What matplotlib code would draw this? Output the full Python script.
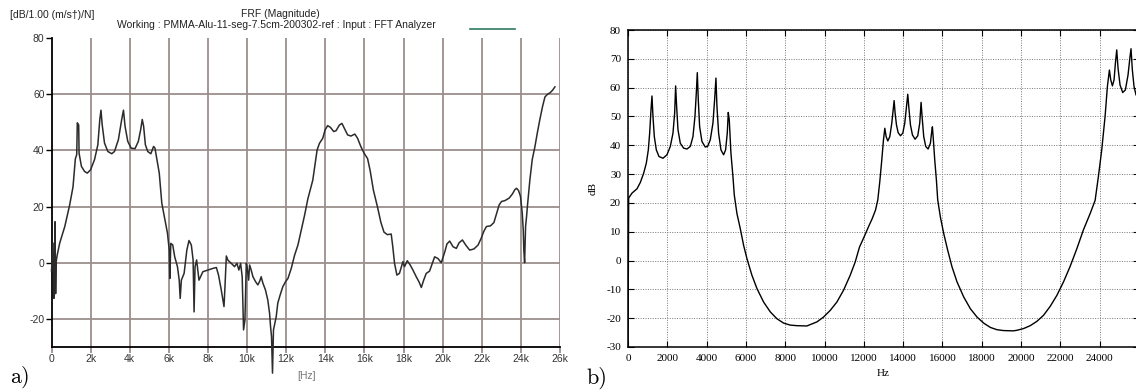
import matplotlib.pyplot as plt
from matplotlib.lines import Line2D

plt.rcParams['axes.unicode_minus'] = False

# ---- panel a: measured FRF (frequency in kHz, magnitude in dB) ----
a_freq_khz = [0.0, 0.08, 0.12, 0.15, 0.18, 0.21, 0.24, 0.3, 0.42, 0.68, 0.93, 1.1, 1.22, 1.29, 1.32, 1.39,
              1.41, 1.53, 1.69, 1.83, 2.0, 2.2, 2.37, 2.47, 2.53, 2.59, 2.71, 2.88, 3.08, 3.22, 3.42, 3.59,
              3.68, 3.76, 3.9, 4.07, 4.27, 4.44, 4.56, 4.64, 4.71, 4.8, 4.92, 5.08, 5.22, 5.29, 5.39, 5.51,
              5.64, 5.8, 5.93, 6.02, 6.05, 6.1, 6.2, 6.3, 6.44, 6.53, 6.58, 6.64, 6.78, 6.92, 7.03, 7.15,
              7.24, 7.29, 7.34, 7.42, 7.54, 7.74, 8.0, 8.26, 8.43, 8.54, 8.68, 8.82, 8.87, 8.94, 9.02, 9.19,
              9.36, 9.48, 9.58, 9.67, 9.75, 9.82, 9.89, 9.96, 10.0, 10.08, 10.13, 10.21, 10.3, 10.43, 10.55,
              10.64, 10.72, 10.81, 10.94, 11.06, 11.15, 11.2, 11.25, 11.3, 11.35, 11.42, 11.49, 11.57, 11.69,
              11.83, 11.97, 12.09, 12.26, 12.43, 12.6, 12.77, 12.94, 13.11, 13.36, 13.58, 13.7, 13.87, 13.99,
              14.12, 14.26, 14.43, 14.55, 14.72, 14.85, 14.97, 15.14, 15.31, 15.51, 15.65, 15.82, 15.99,
              16.16, 16.29, 16.46, 16.67, 16.84, 17.0, 17.17, 17.37, 17.45, 17.54, 17.66, 17.79, 17.97,
              18.05, 18.19, 18.34, 18.48, 18.65, 18.79, 18.91, 19.03, 19.16, 19.33, 19.47, 19.59, 19.76,
              19.93, 20.11, 20.22, 20.36, 20.53, 20.7, 20.84, 21.01, 21.18, 21.38, 21.6, 21.81, 21.97, 22.1,
              22.24, 22.44, 22.62, 22.75, 22.89, 23.01, 23.18, 23.4, 23.57, 23.69, 23.78, 23.88, 23.98,
              24.07, 24.12, 24.15, 24.19, 24.24, 24.29, 24.34, 24.46, 24.58, 24.72, 24.84, 24.97, 25.11,
              25.23, 25.35, 25.49, 25.62, 25.74]
a_db = [-3, 7, -12.7, -9, 14.6, -11, 0.5, 3, 7, 12.9, 20.6, 27, 37, 38.5, 49.8, 49,
        39, 34.3, 32.5, 31.9, 33.1, 36.7, 42, 51, 54.3, 49.2, 42.6, 39.6, 38.8, 39.6, 43.8, 51,
        54.3, 48.6, 43.2, 40.8, 40.6, 43.2, 47.4, 51, 48.6, 42, 39.6, 38.8, 41.4, 40.8, 36.7, 31.9,
        21.2, 15.2, 10.5, 4.5, -5.6, 6.9, 6.3, 2.1, -1.4, -6.2, -12.7, -6.2, -3.8, 4.5, 7.9, 6.3,
        1, -17.5, -1.4, 1, -6.2, -3.2, -2.6, -2, -1.7, -4.4, -9.7, -15.6, -8.5, 2.4, 0.9, -0.2,
        -1.4, -0.2, -2.6, -0.2, -5, -23.9, -20.4, -0.2, -1.4, -6.2, -0.8, -2.6, -5, -6.7, -7.9,
        -6.7, -5, -7.3, -9.7, -13.3, -18, -22.7, -26.3, -39.3, -23.9, -21.5, -19.2, -14.4, -11.5,
        -8.5, -6.7, -5.6, -2, 2.7, 6.3, 11.6, 16.9, 22.8, 29.4, 40.1, 42.5, 44.3, 47.3,
        48.8, 48.2, 46.7, 47, 49, 49.6, 47.9, 45.5, 45.1, 45.8, 44.3, 41.3, 38.9,
        37.1, 32.9, 25.8, 19.8, 14.4, 10.9, 10, 10.2, 5.7, -0.2, -4.4, -3.8, 0.4,
        -1.4, 0.7, -0.8, -2.6, -5, -6.8, -8.8, -6.2, -3.8, -3, -0.2, 2.1, 1.5,
        0, 3.9, 6.7, 7.7, 5.7, 5.1, 7.1, 8.1, 6.3, 4.5, 4.9, 6.3, 8.7, 11.1,
        12.9, 13.1, 14.3, 17.4, 20.6, 21.8, 22.1, 23, 24.5, 26, 26.5, 25.7, 23.6,
        17.6, 11.7, 4.5, 0, 12.9, 16.4, 20.6, 29.5, 36.7, 41.4, 46.2, 51, 55.7,
        59, 59.9, 60.5, 61.4, 62.6]
a_xticks = [0, 2, 4, 6, 8, 10, 12, 14, 16, 18, 20, 22, 24, 26]
a_xticklabels = ['0', '2k', '4k', '6k', '8k', '10k', '12k', '14k', '16k', '18k', '20k', '22k', '24k', '26k']
a_yticks = [-20, 0, 20, 40, 60, 80]

# ---- panel b: computed response (Hz, dB) ----
b_freq_hz = [0, 34, 203, 458, 627, 797, 932, 1034, 1102, 1170, 1220, 1271, 1339, 1441, 1576, 1780,
             1983, 2153, 2288, 2373, 2424, 2475, 2543, 2661, 2831, 3000, 3170, 3305, 3407, 3475, 3526,
             3576, 3644, 3763, 3932, 4051, 4187, 4322, 4407, 4475, 4526, 4610, 4729, 4865, 4966, 5051,
             5102, 5153, 5237, 5339, 5407, 5543, 5712, 5882, 6051, 6305, 6560, 6899, 7238, 7577, 7916,
             8255, 8594, 9100, 9611, 9950, 10289, 10628, 10967, 11306, 11560, 11780, 12000, 12254,
             12423, 12593, 12711, 12813, 12914, 12999, 13067, 13134, 13219, 13321, 13422, 13490, 13541,
             13591, 13659, 13744, 13862, 13981, 14082, 14167, 14235, 14286, 14370, 14472, 14607, 14743,
             14844, 14912, 14963, 15047, 15149, 15268, 15386, 15454, 15488, 15538, 15606, 15691, 15758,
             15894, 16063, 16266, 16486, 16740, 17079, 17418, 17757, 18095, 18434, 18772, 19111, 19600,
             19788, 20126, 20465, 20804, 21142, 21481, 21820, 22159, 22498, 22837, 23175, 23514, 23768,
             23935, 24104, 24274, 24392, 24494, 24562, 24647, 24731, 24799, 24867, 24934, 25036, 25171,
             25307, 25442, 25544, 25594, 25662, 25747, 25848]
b_db = [-30, 21.7, 23.4, 24.9, 27.1, 30.3, 33.8, 38.4, 44.2, 52.3, 57.1, 50, 43, 38.4, 36.1, 35.5,
        36.7, 39.6, 44.2, 51.1, 60.6, 53.4, 45.4, 40.7, 39, 38.7, 39.6, 43, 50, 58.1, 65.2,
        55.8, 46.5, 41.3, 39.4, 39.6, 41.9, 47.7, 55.8, 63.3, 53.4, 44.2, 38.4, 36.7, 38.4, 44.2,
        51.4, 48.8, 37.3, 29.2, 22.8, 16.3, 11.1, 5.3, 0.7, -5.1, -9.7, -14.4, -17.8, -20.2, -21.7,
        -22.4, -22.6, -22.7, -21.3, -19.6, -17.3, -14.4, -10.3, -5.1, -0.5, 4.7, 8.0, 12.0,
        14.5, 17.5, 21.1, 27.5, 35, 41.9, 45.9, 43, 41.5, 43, 47.7, 52.3, 55.5,
        51.1, 47.1, 44.4, 43.3, 44.2, 47.7, 53.4, 57.7, 53.4, 47.1, 43.6, 42.1, 43.3,
        47.7, 54.9, 50, 43, 39.6, 38.7, 40.7, 44.8, 46.4, 41.9, 35, 28, 21.1,
        15.1, 9.4, 3.6, -2.2, -7.4, -12.6, -16.7, -19.6, -21.7, -23.2, -24, -24.3, -24.4,
        -24.2, -23.6, -22.6, -21.1, -19, -15.9, -12.1, -7.4, -2, 4.1, 10.7, 16.3, 20.9,
        29.2, 38.4, 50, 60.4, 66.1, 62.7, 60.6, 62.7, 68.5, 73.1, 66.7, 60.9, 58.3,
        59.2, 64.4, 70.8, 73.5, 66.1, 60.4, 57.5]
b_xticks = list(range(0, 26000, 2000))
b_yticks = list(range(-30, 81, 10))

fig = plt.figure(figsize=(11.36, 3.92), dpi=100)

# ---------------- panel a ----------------
grid_col = '#9b8f8c'
sans = ['Liberation Sans', 'DejaVu Sans']
ax1 = fig.add_axes([51.5 / 1136, 45 / 392, 508.5 / 1136, 309 / 392])
ax1.plot(a_freq_khz, a_db, color='#2b2b2b', linewidth=1.1, clip_on=False, zorder=3)
ax1.set_xlim(0, 26)
ax1.set_ylim(-30, 80)
for x in a_xticks[1:]:
    ax1.axvline(x, color=grid_col, linewidth=1.3, zorder=1)
for y in a_yticks[:-1]:
    ax1.axhline(y, color=grid_col, linewidth=1.3, zorder=1)
ax1.set_xticks(a_xticks)
ax1.set_xticklabels(a_xticklabels, family=sans, fontsize=7.5, color='#333333')
ax1.set_yticks(a_yticks)
ax1.set_yticklabels([str(v) for v in a_yticks], family=sans, fontsize=7.5, color='#333333')
ax1.tick_params(axis='x', length=4, color=grid_col, width=1.3, pad=1)
ax1.tick_params(axis='y', length=4, color='black', width=1.0, pad=1)
ax1.spines['top'].set_visible(False)
ax1.spines['right'].set_visible(False)
ax1.spines['left'].set_linewidth(1.3)
ax1.spines['bottom'].set_linewidth(1.3)
ax1.text(307 / 1136, 1 - 376 / 392, '[Hz]', transform=fig.transFigure, family=sans,
         fontsize=7.5, color='#777777', ha='center', va='center')
fig.text(52 / 1136, 1 - 15 / 392, '[dB/1.00 (m/s\u2020)/N]', family=sans, fontsize=7.5,
         color='#222222', ha='center', va='center')
fig.text(280 / 1136, 1 - 14 / 392, 'FRF (Magnitude)', family=sans, fontsize=7.5,
         color='#222222', ha='center', va='center')
fig.text(276 / 1136, 1 - 25 / 392, 'Working : PMMA-Alu-11-seg-7.5cm-200302-ref : Input : FFT Analyzer',
         family=sans, fontsize=7.5, color='#222222', ha='center', va='center')
fig.add_artist(Line2D([470 / 1136, 515 / 1136], [1 - 29 / 392, 1 - 29 / 392],
                      transform=fig.transFigure, color='#2e7a5e', linewidth=1.2))
fig.text(20 / 1136, 1 - 377 / 392, 'a)', family=['cmr10', 'DejaVu Serif'], fontsize=16,
         ha='center', va='center')

# ---------------- panel b ----------------
serif = ['Liberation Serif', 'DejaVu Serif']
ax2 = fig.add_axes([628 / 1136, 45 / 392, 511 / 1136, 317 / 392])
ax2.plot(b_freq_hz, b_db, color='black', linewidth=1.0, zorder=3)
ax2.set_xlim(0, 26000)
ax2.set_ylim(-30, 80)
ax2.set_xticks(b_xticks)
ax2.set_xticklabels([str(v) for v in b_xticks], family=serif, fontsize=8)
ax2.set_yticks(b_yticks)
ax2.set_yticklabels([str(v) for v in b_yticks], family=serif, fontsize=8)
ax2.grid(True, color='#777777', linestyle=(0, (1, 1.5)), linewidth=0.7)
ax2.tick_params(direction='in', length=4, width=0.8, top=True, right=True, pad=5)
for s in ax2.spines.values():
    s.set_linewidth(1.1)
ax2.set_xlabel('Hz', family=serif, fontsize=8, labelpad=4)
ax2.set_ylabel('dB', family=serif, fontsize=8, labelpad=6)
fig.text(597 / 1136, 1 - 378 / 392, 'b)', family=['cmr10', 'DejaVu Serif'], fontsize=16,
         ha='center', va='center')

fig.savefig('out.png', dpi=100)
